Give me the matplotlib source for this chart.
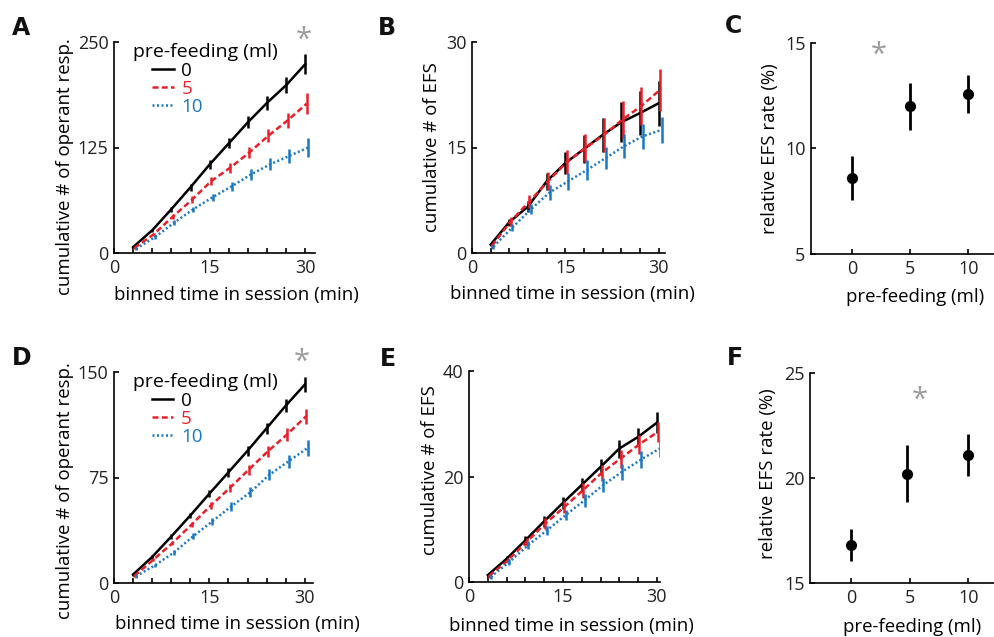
import matplotlib
matplotlib.use('Agg')
from matplotlib import pyplot as plt
from matplotlib.lines import Line2D

plt.rcParams['font.family'] = ['Open Sans', 'DejaVu Sans']
plt.rcParams['font.size'] = 13

# binned time (min)
t = [3, 6, 9, 12, 15, 18, 21, 24, 27, 30]
feed_labels = ['0', '5', '10']

# A: cumulative operant responses
a_mean = [[7, 27, 52, 78, 105, 130, 155, 178, 199, 224],
          [6, 22, 43, 63, 85, 101, 119, 139, 157, 177],
          [5, 19, 36, 52, 66, 79, 93, 105, 115, 125]]
a_err = [[1, 2, 3, 4, 5, 6, 7, 8, 9, 12],
         [1, 2, 3, 4, 5, 6, 7, 8, 9, 12],
         [1, 2, 3, 3, 4, 5, 6, 7, 8, 11]]

# B: cumulative EFS
b_mean = [[1.2, 4.4, 6.6, 10.2, 12.8, 14.8, 16.8, 18.6, 19.9, 21.3],
          [1.0, 4.5, 7.3, 10.2, 12.9, 14.9, 16.8, 19.0, 20.9, 23.2],
          [0.9, 3.6, 6.2, 8.6, 10.2, 11.8, 13.5, 15.2, 16.6, 17.5]]
b_err = [[0.2, 0.5, 0.8, 1.2, 1.5, 2.0, 2.4, 2.8, 3.1, 3.2],
         [0.3, 0.6, 0.9, 1.3, 1.7, 2.0, 2.4, 2.6, 2.7, 3.0],
         [0.3, 0.5, 0.7, 1.0, 1.2, 1.4, 1.6, 1.7, 1.8, 1.9]]

# C: relative EFS rate
c_x = [0, 5, 10]
c_mean = [8.6, 12.0, 12.6]
c_err = [1.06, 1.1, 0.9]

# D: cumulative operant responses
d_mean = [[6, 18.5, 33, 48, 63.5, 78.7, 94, 110, 126, 141],
          [5, 16.6, 28.4, 41.5, 55, 67.5, 80.6, 93.6, 105.5, 118.5],
          [4.7, 12.6, 21.8, 33.2, 43.8, 54.5, 64.5, 77, 86.5, 96]]
d_err = [[0.8, 1.2, 1.6, 2, 2.5, 3, 3.5, 4, 4.5, 5.5],
         [0.8, 1.2, 1.6, 2, 2.5, 3, 3.5, 4, 4.5, 5.5],
         [0.8, 1.2, 1.6, 2, 2.5, 3, 3.5, 4, 4.5, 5.5]]

# E: cumulative EFS
e_mean = [[1.3, 4.4, 7.9, 11.5, 15.0, 18.4, 21.8, 25.3, 27.5, 30.2],
          [1.1, 4.1, 7.6, 11.1, 14.2, 17.4, 20.7, 23.4, 26.1, 28.5],
          [0.95, 3.8, 7.0, 9.8, 12.7, 15.5, 18.4, 20.9, 23.2, 25.3]]
e_err = [[0.3, 0.5, 0.8, 1.0, 1.2, 1.4, 1.5, 1.7, 1.7, 2.0],
         [0.3, 0.5, 0.8, 1.0, 1.2, 1.4, 1.5, 1.7, 1.8, 1.9],
         [0.3, 0.5, 0.7, 0.9, 1.0, 1.2, 1.4, 1.5, 1.6, 1.6]]

# F: relative EFS rate
f_x = [0, 4.8, 10]
f_mean = [16.8, 20.2, 21.1]
f_err = [0.75, 1.35, 1.0]

colors = ['black', '#E8202A', '#1A78C2']
styles = ['-', (0, (2.4, 1.3)), (0, (0.8, 1.0))]
offsets = [0.0, 0.2, 0.45]
GREY = '#9B9B9B'
LAB = 13.4

W, H = 994, 637
fig = plt.figure(figsize=(W / 100, H / 100), dpi=100)


def make_ax(left, right, top, bottom):
    ax = fig.add_axes([left / W, 1 - bottom / H, (right - left) / W, (bottom - top) / H])
    ax.spines['top'].set_visible(False)
    ax.spines['right'].set_visible(False)
    for s in ('left', 'bottom'):
        ax.spines[s].set_linewidth(1.2)
    ax.tick_params(direction='in', length=3.5, width=1.2, labelsize=13, pad=4,
                   labelcolor='#222222')
    ax.patch.set_alpha(0)
    return ax


def cum_panel(ax, means, errs, ymax, yticks, xmax):
    for m, e, c, ls, off in zip(means, errs, colors, styles, offsets):
        xs = [v + off for v in t]
        ax.plot(xs, m, color=c, linestyle=ls, lw=1.8, zorder=3)
        ax.errorbar(xs, m, yerr=e, fmt='none', ecolor=c, elinewidth=1.8, capsize=0, zorder=3)
    ax.set_xlim(0, xmax)
    ax.set_ylim(0, ymax)
    xt = list(range(0, 31, 3))
    ax.set_xticks(xt, [str(v) if v % 15 == 0 else '' for v in xt])
    ax.set_yticks(yticks)
    ax.set_xlabel('binned time in session (min)', fontsize=LAB)


def add_legend(ax):
    ax.text(0.095, 0.953, 'pre-feeding (ml)', transform=ax.transAxes, fontsize=14,
            ha='left', va='center')
    handles = [Line2D([], [], color=c, linestyle=ls, lw=1.8) for c, ls in zip(colors, styles)]
    leg = ax.legend(handles, feed_labels, loc='upper left',
                    bbox_to_anchor=(0.19, 0.905), frameon=False, fontsize=13.5,
                    handlelength=1.15, handletextpad=0.4, labelspacing=0.0,
                    borderpad=0.0, labelcolor='linecolor', borderaxespad=0.0)
    return leg


def rate_panel(ax, xv, m, e, ylim, yticks):
    ax.errorbar(xv, m, yerr=e, fmt='o', color='black', ms=7, elinewidth=2, capsize=0, zorder=3)
    ax.set_xlim(-3.5, 12.2)
    ax.set_ylim(*ylim)
    ax.set_xticks([0, 5, 10])
    ax.set_yticks(yticks)
    ax.set_xlabel('pre-feeding (ml)', fontsize=LAB)
    ax.set_ylabel('relative EFS rate (%)', fontsize=LAB)


# A
axA = make_ax(114, 315, 42, 253)
cum_panel(axA, a_mean, a_err, 250, [0, 125, 250], 31.5)
axA.set_ylabel('cumulative # of operant resp.', fontsize=LAB)
add_legend(axA)
axA.text(29.7, 252, '*', color=GREY, fontsize=21, ha='center', va='center', clip_on=False)

# B
axB = make_ax(472, 665, 42, 253)
cum_panel(axB, b_mean, b_err, 30, [0, 15, 30], 31)
axB.set_ylabel('cumulative # of EFS', fontsize=LAB)

# C
axC = make_ax(811, 994, 43, 254)
rate_panel(axC, c_x, c_mean, c_err, (5, 15), [5, 10, 15])
axC.text(2.35, 14.4, '*', color=GREY, fontsize=21, ha='center', va='center')

# D
axD = make_ax(114, 313, 372, 583)
cum_panel(axD, d_mean, d_err, 150, [0, 75, 150], 31.3)
axD.set_ylabel('cumulative # of operant resp.', fontsize=LAB)
add_legend(axD)
axD.text(29.5, 157, '*', color=GREY, fontsize=21, ha='center', va='center', clip_on=False)

# E
axE = make_ax(469, 660, 371, 582)
cum_panel(axE, e_mean, e_err, 40, [0, 20, 40], 30.5)
axE.set_ylabel('cumulative # of EFS', fontsize=LAB)

# F
axF = make_ax(810, 994, 373, 583)
rate_panel(axF, f_x, f_mean, f_err, (15, 25), [15, 20, 25])
axF.text(5.87, 23.7, '*', color=GREY, fontsize=21, ha='center', va='center')

axA.yaxis.set_label_coords(-0.2, 0.41)
axA.xaxis.set_label_coords(0.61, -0.155)
axD.yaxis.set_label_coords(-0.2, 0.44)
axD.xaxis.set_label_coords(0.62, -0.15)
axB.yaxis.set_label_coords(-0.16, 0.5)
axB.xaxis.set_label_coords(0.52, -0.152)
axE.yaxis.set_label_coords(-0.157, 0.53)
axE.xaxis.set_label_coords(0.534, -0.166)
axC.yaxis.set_label_coords(-0.175, 0.5)
axC.xaxis.set_label_coords(0.566, -0.16)
axF.yaxis.set_label_coords(-0.18, 0.52)
axF.xaxis.set_label_coords(0.554, -0.167)

for letter, px, py in [('A', 12, 16), ('B', 378, 16), ('C', 725, 14),
                       ('D', 12, 346), ('E', 380, 347), ('F', 727, 346)]:
    fig.text(px / W, 1 - py / H, letter, fontsize=17, fontweight='bold',
             family=['DejaVu Sans'], va='top', ha='left', color='#111111')

fig.savefig('out.png', dpi=100)
